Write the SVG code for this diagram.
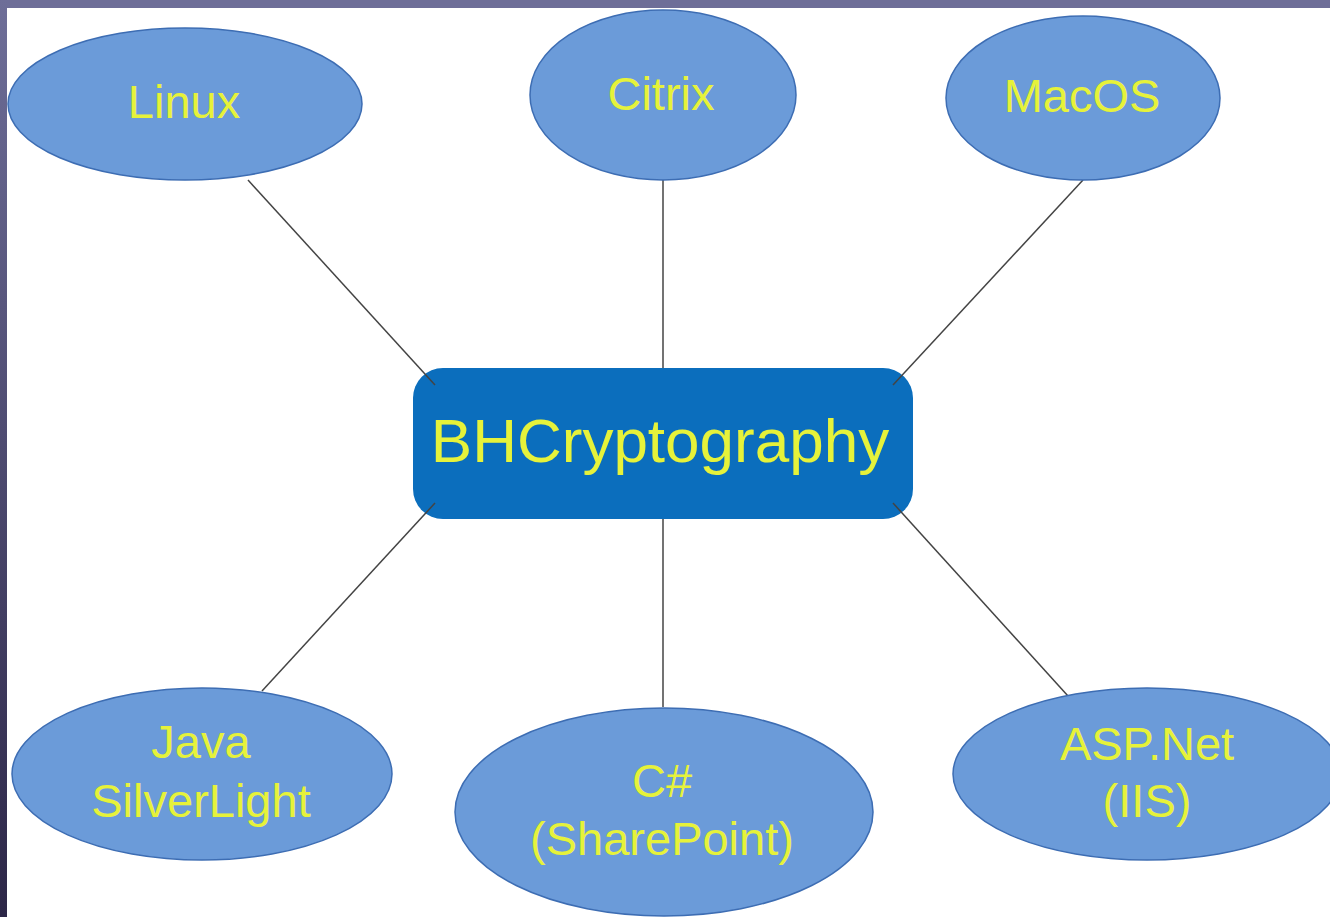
<svg xmlns="http://www.w3.org/2000/svg" width="1330" height="917" viewBox="0 0 1330 917">
<defs>
<linearGradient id="side" x1="0" y1="0" x2="0" y2="1">
<stop offset="0" stop-color="#6e6e98"/>
<stop offset="1" stop-color="#2c2647"/>
</linearGradient>
<style>
.leaf{fill:#6b9bd9;stroke:#3d6db3;stroke-width:1.5}
.hub{fill:#0b6ebd}
.t{font-family:"Liberation Sans",Arial,sans-serif;fill:#e6f23a;text-anchor:middle;font-size:47px}
.edge{stroke:#444;stroke-width:1.5;fill:none}
</style>
</defs>
<rect x="0" y="0" width="1330" height="917" fill="#ffffff"/>
<rect x="0" y="0" width="1330" height="8" fill="#6e6e98"/>
<rect x="0" y="0" width="7" height="917" fill="url(#side)"/>
<g id="center">
<rect class="hub" x="413" y="368" width="500" height="151" rx="30" ry="30"/>
</g>
<g id="connectors">
<line class="edge" x1="248" y1="180" x2="435" y2="385"/>
<line class="edge" x1="663" y1="180" x2="663" y2="368"/>
<line class="edge" x1="1083" y1="180" x2="893" y2="385"/>
<line class="edge" x1="262" y1="691" x2="435" y2="503"/>
<line class="edge" x1="663" y1="519" x2="663" y2="707"/>
<line class="edge" x1="893" y1="503" x2="1068" y2="696"/>
</g>
<g id="center-label">
<text class="t" x="660" y="462" style="font-size:62px">BHCryptography</text>
</g>
<g id="linux">
<ellipse class="leaf" cx="185" cy="104" rx="177" ry="76"/>
<text class="t" x="184" y="118">Linux</text>
</g>
<g id="citrix">
<ellipse class="leaf" cx="663" cy="95" rx="133" ry="85"/>
<text class="t" x="661" y="110">Citrix</text>
</g>
<g id="macos">
<ellipse class="leaf" cx="1083" cy="98" rx="137" ry="82"/>
<text class="t" x="1082" y="112">MacOS</text>
</g>
<g id="java">
<ellipse class="leaf" cx="202" cy="774" rx="190" ry="86"/>
<text class="t" x="201" y="758">Java</text>
<text class="t" x="201" y="817">SilverLight</text>
</g>
<g id="csharp">
<ellipse class="leaf" cx="664" cy="812" rx="209" ry="104"/>
<text class="t" x="662" y="797">C#</text>
<text class="t" x="662" y="855">(SharePoint)</text>
</g>
<g id="aspnet">
<ellipse class="leaf" cx="1147" cy="774" rx="194" ry="86"/>
<text class="t" x="1147" y="760">ASP.Net</text>
<text class="t" x="1147" y="817">(IIS)</text>
</g>
</svg>
